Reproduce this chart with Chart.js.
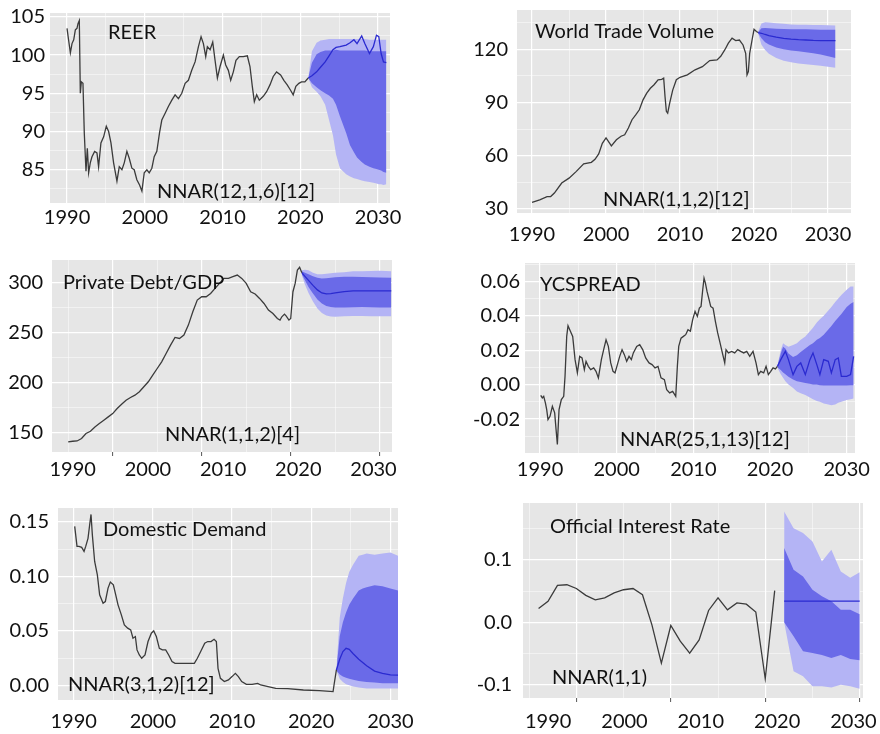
<!DOCTYPE html>
<html>
<head>
<meta charset="utf-8">
<script src="https://cdn.jsdelivr.net/npm/chart.js@4.4.0/dist/chart.umd.min.js"></script>
<style>
  body { margin: 0; background: #fff; }
  #wrap { position: relative; width: 880px; height: 734px; }
  canvas { position: absolute; }
</style>
</head>
<body>
<div id="wrap">
  <canvas id="reerChart" width="440" height="245" style="left:0;top:0"></canvas>
  <canvas id="wtvChart" width="440" height="245" style="left:440px;top:0"></canvas>
  <canvas id="debtChart" width="440" height="240" style="left:0;top:250px"></canvas>
  <canvas id="ycChart" width="440" height="240" style="left:440px;top:250px"></canvas>
  <canvas id="ddChart" width="440" height="239" style="left:0;top:495px"></canvas>
  <canvas id="oirChart" width="440" height="239" style="left:440px;top:495px"></canvas>
</div>
<script>
// ---- shared tick labels
const yearTicks = [1990, 2000, 2010, 2020, 2030];

// ---- REER
const reerYears = [1990.0,1990.21,1990.43,1990.64,1990.86,1991.07,1991.28,1991.41,1991.58,1991.71,1991.84,1992.05,1992.22,1992.44,1992.61,1992.78,1992.99,1993.21,1993.55,1993.85,1994.06,1994.36,1994.71,1995.05,1995.35,1995.65,1995.99,1996.42,1996.72,1997.06,1997.36,1997.7,1998.0,1998.34,1998.64,1998.98,1999.33,1999.63,1999.93,2000.27,2000.57,2000.91,2001.21,2001.55,2001.89,2002.19,2002.62,2003.05,2003.48,2003.9,2004.33,2004.76,2005.19,2005.61,2006.04,2006.47,2006.9,2007.24,2007.54,2007.84,2008.05,2008.4,2008.74,2009.04,2009.34,2009.68,2010.11,2010.41,2010.75,2011.05,2011.39,2011.73,2012.16,2012.67,2013.19,2013.53,2013.83,2014.09,2014.39,2014.73,2015.24,2015.67,2016.1,2016.52,2016.95,2017.47,2017.89,2018.32,2018.75,2019.09,2019.43,2019.82,2020.16,2020.59,2021.02];
const reerValues = [103.5,101.9,100.3,101.5,102.0,103.3,103.5,104.1,104.5,95.0,96.5,96.3,89.8,84.8,87.8,84.6,85.9,86.7,87.4,87.2,85.4,88.5,89.3,90.7,90.0,88.5,85.9,83.5,85.4,85.0,85.9,87.4,86.5,85.2,85.0,83.7,83.0,82.2,84.6,85.0,84.6,85.2,86.7,87.4,89.8,91.5,92.4,93.3,94.1,94.8,94.3,95.0,96.3,96.7,98.0,99.1,101.1,102.4,101.5,99.8,101.1,100.7,101.7,99.3,97.0,98.5,100.0,98.7,98.0,96.7,97.8,99.3,99.8,99.8,99.9,98.5,95.9,93.9,94.8,94.1,94.6,95.2,96.1,97.2,97.8,97.4,96.7,96.1,95.4,94.8,95.9,96.3,96.5,96.5,97.0];
const reerFcYears = [2021.02,2021.5,2022.1,2022.6,2023.2,2023.7,2024.2,2024.6,2025.1,2025.9,2026.4,2026.9,2027.3,2027.9,2028.3,2028.9,2029.4,2029.8,2030.1,2030.4,2030.7,2031.07];
const reerMean = [97.0,97.3,97.8,98.4,99.1,99.9,100.7,101.0,101.1,101.3,101.6,102.0,101.5,102.5,101.5,100.2,101.1,102.6,102.4,100.2,99.1,99.0];
const reerHi80 = [97.0,99.0,100.1,100.4,100.6,100.6,100.6,100.7,100.6,100.6,100.6,100.6,100.6,100.6,100.6,100.5,100.5,100.5,100.5,100.5,100.5,100.5];
const reerLo80 = [97.0,96.3,95.8,95.4,95.0,94.7,94.3,93.5,92.0,89.8,88.2,87.3,86.6,86.0,85.7,85.4,85.2,85.1,85.0,84.9,84.7,84.6];
const reerHi95 = [97.0,100.5,101.6,101.9,102.0,102.1,102.1,102.1,102.1,102.1,102.1,102.1,102.1,102.1,102.1,102.0,102.0,102.0,102.0,102.0,102.0,102.0];
const reerLo95 = [97.0,95.8,95.2,94.6,93.5,91.5,89.5,87.0,85.2,84.4,84.1,83.9,83.8,83.6,83.5,83.4,83.3,83.2,83.1,83.1,83.0,83.1];
const reerTicks = [85, 90, 95, 100, 105];

// ---- World Trade Volume
const wtvYears = [1990.0,1991.04,1992.03,1992.52,1993.02,1994.01,1995.0,1995.99,1996.98,1998.02,1998.51,1999.01,1999.5,2000.0,2000.5,2000.72,2001.4,2002.03,2002.52,2003.02,2003.51,2004.01,2004.5,2005.0,2005.5,2005.99,2006.49,2007.03,2007.52,2007.79,2007.97,2008.15,2008.33,2008.6,2009.01,2009.5,2010.0,2010.99,2012.03,2013.02,2014.01,2015.0,2015.5,2016.04,2016.53,2017.03,2017.52,2018.02,2018.51,2018.87,2019.05,2019.23,2019.41,2019.73,2020.0,2020.32,2020.54];
const wtvValues = [33.7,35.2,37.0,37.0,39.0,44.6,47.4,51.2,55.5,56.3,58.0,61.0,67.0,70.0,67.0,65.6,69.0,71.0,71.8,75.6,80.3,83.0,85.9,91.5,95.3,98.0,100.0,102.8,103.0,103.7,93.4,85.0,84.0,89.6,97.0,102.8,104.2,105.6,108.4,110.2,113.6,114.0,116.0,119.6,123.4,126.2,124.9,125.2,122.4,117.7,105.6,107.4,117.7,125.2,131.2,130.0,129.4];
const wtvFcYears = [2020.54,2021.0,2021.5,2022.0,2023.0,2024.0,2025.0,2026.0,2027.0,2028.0,2029.0,2030.0,2031.0];
const wtvMean = [129.4,129.0,128.3,127.7,126.8,126.1,125.7,125.4,125.2,125.0,124.9,124.9,124.9];
const wtvHi80 = [129.6,131.8,132.0,131.8,131.5,131.4,131.3,131.2,131.2,131.1,131.0,131.0,131.0];
const wtvLo80 = [129.2,126.2,124.0,122.6,121.0,120.0,119.3,118.8,118.3,117.8,117.0,116.0,115.0];
const wtvHi95 = [129.8,134.5,135.2,135.0,134.6,134.3,134.0,133.8,133.8,133.7,133.6,133.5,133.4];
const wtvLo95 = [129.0,122.5,119.5,117.5,115.0,113.5,112.6,112.0,111.5,111.1,110.7,110.2,109.5];
const wtvTicks = [30, 60, 90, 120];

// ---- Private Debt/GDP (quarterly)
const debtYears = [1995.0,1995.5,1996.0,1996.5,1997.0,1997.5,1998.0,1998.5,1999.0,1999.5,2000.0,2000.5,2001.0,2001.5,2002.0,2002.5,2003.0,2003.5,2004.0,2004.5,2005.0,2005.5,2006.0,2006.5,2007.0,2007.5,2008.0,2008.5,2009.0,2009.5,2010.0,2010.5,2011.0,2011.5,2012.0,2012.5,2013.0,2013.5,2014.0,2014.5,2015.0,2015.5,2016.0,2016.5,2017.0,2017.5,2018.0,2018.5,2018.8,2019.0,2019.3,2019.5,2019.8,2020.0,2020.25,2020.5,2020.75,2021.0,2021.25];
const debtValues = [141.0,141.7,142.0,144.4,149.4,151.7,156.0,159.3,162.7,166.0,169.3,174.3,178.6,182.6,185.3,187.6,191.0,196.0,201.0,207.5,214.2,220.8,229.2,237.5,245.1,244.1,247.5,257.4,270.7,282.4,285.7,285.7,289.0,294.0,299.0,304.0,304.0,305.7,307.3,304.0,299.0,290.7,288.4,284.0,279.0,272.4,269.0,264.0,262.4,265.7,268.4,266.4,262.4,264.0,290.7,299.0,312.3,315.0,309.6];
const debtFcYears = [2021.25,2021.6,2022.0,2022.5,2023.0,2023.5,2024.0,2024.5,2025.0,2026.0,2027.0,2028.0,2029.0,2030.0,2031.3];
const debtMean = [309.6,306.0,302.0,297.0,292.5,289.5,288.5,288.8,289.5,290.8,291.5,291.6,291.5,291.5,291.5];
const debtHi80 = [311.0,309.5,308.0,306.0,304.5,303.8,304.0,304.5,305.0,305.5,305.6,305.3,305.0,304.8,304.5];
const debtLo80 = [308.0,302.0,295.5,289.0,283.0,279.0,276.5,275.5,275.0,275.0,275.3,275.5,275.3,275.0,275.0];
const debtHi95 = [312.0,312.5,312.0,309.5,308.2,308.0,308.5,309.0,309.5,310.2,311.0,311.2,311.3,311.5,311.0];
const debtLo95 = [307.0,298.0,289.5,281.0,274.0,269.5,267.0,266.0,265.8,266.2,266.5,266.4,266.2,266.2,266.3];
const debtTicks = [150, 200, 250, 300];

// ---- YCSPREAD
const ycYears = [1990.09,1990.3,1990.48,1990.7,1990.87,1991.04,1991.3,1991.61,1991.91,1992.09,1992.26,1992.48,1992.78,1993.09,1993.26,1993.48,1993.65,1993.96,1994.26,1994.57,1994.87,1995.17,1995.48,1995.78,1996.0,1996.3,1996.61,1997.0,1997.3,1997.61,1998.0,1998.3,1998.61,1998.91,1999.22,1999.52,1999.78,2000.09,2000.39,2000.7,2001.0,2001.3,2001.61,2001.91,2002.17,2002.61,2003.0,2003.39,2003.78,2004.22,2004.61,2005.0,2005.39,2005.78,2006.22,2006.52,2006.91,2007.3,2007.7,2007.91,2008.09,2008.39,2008.7,2009.0,2009.3,2009.61,2009.91,2010.22,2010.52,2010.78,2011.0,2011.22,2011.39,2011.57,2011.78,2012.0,2012.26,2012.57,2012.87,2013.17,2013.48,2013.78,2014.09,2014.26,2014.57,2015.0,2015.39,2015.78,2016.17,2016.57,2016.96,2017.35,2017.78,2018.17,2018.48,2018.78,2019.17,2019.48,2019.78,2020.09,2020.39,2020.7,2020.96];
const ycValues = [-0.0062,-0.0077,-0.0068,-0.0106,-0.0145,-0.0203,-0.0184,-0.0126,-0.0164,-0.026,-0.0348,-0.0145,-0.0087,-0.0068,0.0048,0.028,0.0342,0.031,0.028,0.0145,0.0068,0.0164,0.0155,0.0087,0.0135,0.0106,0.0087,0.0097,0.0077,0.0039,0.0145,0.0203,0.026,0.0222,0.0126,0.0077,0.0068,0.0116,0.0164,0.0203,0.0174,0.0135,0.0164,0.0145,0.0184,0.0222,0.0232,0.0203,0.0155,0.0126,0.0116,0.0097,0.0106,0.0039,0.0029,-0.0029,-0.0048,-0.0039,-0.0068,0.0106,0.0222,0.027,0.028,0.029,0.0319,0.031,0.0377,0.0425,0.0396,0.0444,0.0454,0.0551,0.0618,0.0589,0.0541,0.0502,0.0454,0.0444,0.0367,0.030,0.0242,0.0184,0.0126,0.0203,0.0184,0.0193,0.0184,0.0203,0.0193,0.0184,0.0193,0.0164,0.0193,0.0126,0.0058,0.0077,0.0068,0.0106,0.0058,0.0077,0.0097,0.0091,0.0106];
const ycFcYears = [2020.96,2021.4,2021.7,2022.0,2022.4,2023.0,2023.5,2024.0,2024.6,2025.2,2025.6,2026.1,2026.5,2027.0,2027.6,2028.0,2028.5,2028.9,2029.3,2030.0,2030.5,2030.9];
const ycMean = [0.0106,0.0145,0.017,0.0193,0.0145,0.0058,0.0106,0.0126,0.0058,0.0145,0.0184,0.0116,0.0058,0.0145,0.0135,0.0068,0.0145,0.0155,0.0048,0.0048,0.0058,0.0164];
const ycHi80 = [0.011,0.018,0.022,0.021,0.018,0.016,0.017,0.019,0.021,0.023,0.024,0.026,0.027,0.029,0.032,0.034,0.037,0.039,0.041,0.045,0.047,0.048];
const ycLo80 = [0.010,0.0085,0.007,0.006,0.0045,0.003,0.002,0.0015,0.001,0.0005,0.0,0.0,-0.0003,-0.0005,-0.0005,-0.0005,-0.0005,-0.0005,-0.0005,-0.0005,-0.0004,-0.0003];
const ycHi95 = [0.0112,0.020,0.024,0.023,0.022,0.023,0.024,0.026,0.028,0.031,0.033,0.036,0.038,0.040,0.043,0.045,0.048,0.050,0.052,0.055,0.057,0.057];
const ycLo95 = [0.0098,0.006,0.004,0.002,0.0,-0.002,-0.004,-0.005,-0.006,-0.0075,-0.0085,-0.0095,-0.010,-0.011,-0.0115,-0.012,-0.0115,-0.0105,-0.010,-0.009,-0.0085,-0.008];
const ycTicks = [-0.02, 0.00, 0.02, 0.04, 0.06];

// ---- Domestic Demand
const ddYears = [1990.13,1990.42,1990.67,1991.01,1991.31,1991.52,1991.81,1992.02,1992.19,1992.36,1992.65,1992.99,1993.28,1993.71,1994.0,1994.34,1994.63,1995.01,1995.31,1995.6,1996.02,1996.4,1996.82,1997.2,1997.49,1997.79,1998.0,1998.29,1998.59,1999.01,1999.39,1999.81,2000.11,2000.44,2000.82,2001.2,2001.62,2002.0,2002.42,2002.8,2003.52,2004.53,2005.24,2005.62,2006.04,2006.55,2006.93,2007.35,2007.73,2008.02,2008.23,2008.53,2009.03,2009.54,2010.0,2010.42,2010.8,2011.22,2011.81,2012.53,2013.24,2013.62,2014.55,2015.52,2017.03,2019.01,2021.03,2022.76,2022.88,2023.18];
const ddValues = [0.146,0.1276,0.1276,0.1267,0.123,0.1276,0.135,0.1475,0.157,0.138,0.1138,0.1015,0.0831,0.0755,0.077,0.0893,0.0948,0.0923,0.0831,0.0739,0.0647,0.0555,0.0525,0.0509,0.0433,0.0448,0.0325,0.0279,0.0248,0.0279,0.0402,0.0479,0.050,0.0448,0.034,0.0325,0.0325,0.0279,0.0218,0.0202,0.0202,0.0202,0.0202,0.0248,0.031,0.0387,0.0402,0.0402,0.0423,0.0402,0.0156,0.0064,0.0034,0.0049,0.008,0.011,0.008,0.0034,0.0009,0.0009,0.0018,0.0003,-0.0012,-0.0028,-0.0031,-0.0043,-0.0049,-0.0058,0.0003,0.0141];
const ddFcYears = [2023.18,2023.6,2024.0,2024.4,2024.8,2025.3,2026.0,2026.5,2027.0,2028.0,2029.0,2030.0,2031.0];
const ddMean = [0.0141,0.024,0.031,0.034,0.033,0.029,0.024,0.021,0.018,0.013,0.011,0.0095,0.0093];
const ddHi80 = [0.0145,0.045,0.058,0.067,0.074,0.080,0.087,0.089,0.090,0.092,0.091,0.089,0.087];
const ddLo80 = [0.0137,0.010,0.008,0.007,0.006,0.005,0.004,0.0035,0.003,0.0025,0.002,0.002,0.002];
const ddHi95 = [0.015,0.062,0.080,0.094,0.104,0.111,0.119,0.120,0.121,0.120,0.121,0.122,0.119];
const ddLo95 = [0.0135,0.006,0.003,0.001,0.0,-0.001,-0.002,-0.0025,-0.003,-0.003,-0.003,-0.003,-0.003];
const ddTicks = [0.00, 0.05, 0.10, 0.15];

// ---- Official Interest Rate (annual)
const oirYears = [1996,1997,1998,1999,2000,2001,2002,2003,2004,2005,2006,2007,2008,2009,2010,2011,2012,2013,2014,2015,2016,2017,2018,2019,2020,2021];
const oirValues = [0.022,0.0335,0.059,0.060,0.054,0.043,0.036,0.039,0.047,0.052,0.054,0.044,-0.004,-0.065,-0.005,-0.030,-0.049,-0.028,0.019,0.039,0.020,0.031,0.029,0.0165,-0.090,0.0505];
const oirFcYears = [2022,2023,2024,2025,2026,2027,2028,2029,2030];
const oirMean = [0.034,0.034,0.034,0.034,0.034,0.034,0.034,0.034,0.034];
const oirHi80 = [0.1186,0.084,0.073,0.052,0.0415,0.0335,0.020,0.020,0.013];
const oirLo80 = [0.0,-0.022,-0.046,-0.049,-0.052,-0.057,-0.052,-0.0585,-0.0605];
const oirHi95 = [0.177,0.150,0.1425,0.129,0.097,0.116,0.081,0.071,0.080];
const oirLo95 = [0.0,-0.078,-0.086,-0.102,-0.102,-0.104,-0.0995,-0.102,-0.106];
const oirTicks = [-0.1, 0.0, 0.1];

// ---- colours
const histColor = '#3b3b3b';
const meanColor = '#2a2ad0';
const band80 = '#6a6ae8';
const band95 = '#b4b4f5';
const panelGrey = '#e6e6e6';
const fontSize = 20;

const panelDecor = {
	id: 'panelDecor',
	beforeDraw(chart) {
		const a = chart.chartArea;
		const ctx = chart.ctx;
		ctx.save();
		ctx.fillStyle = panelGrey;
		ctx.fillRect(a.left, a.top, a.right - a.left, a.bottom - a.top);
		ctx.restore();
	},
	afterDatasetsDraw(chart, args, opts) {
		const ctx = chart.ctx;
		ctx.save();
		ctx.font = fontSize + 'px Lato';
		ctx.fillStyle = '#111';
		ctx.textBaseline = 'middle';
		ctx.textAlign = 'left';
		opts.notes.forEach(n => ctx.fillText(n.text, n.x, n.y));
		ctx.restore();
	}
};

// ticks every half step, labels only on the majors
function withMinor(majors, min, max) {
	const step = majors[1] - majors[0];
	const out = [];
	majors.forEach(v => out.push({ value: v, isMajor: true }));
	out.push({ value: majors[0] - step / 2, isMajor: false });
	majors.forEach(v => out.push({ value: v + step / 2, isMajor: false }));
	return out.filter(t => t.value >= min - 1e-9 && t.value <= max + 1e-9)
		.sort((a, b) => a.value - b.value);
}

function pts(xs, ys) {
	return xs.map((x, i) => ({ x: x, y: ys[i] }));
}

function makePanel(id, p) {
	const canvas = document.getElementById(id);
	const W = canvas.width, H = canvas.height;
	const gridMajors = p.gridMajors || yearTicks;

	new Chart(canvas.getContext('2d'), {
		type: 'line',
		data: {
			datasets: [
				{ data: pts(p.years, p.values), borderColor: histColor, borderWidth: 1.3, pointRadius: 0, fill: false },
				{ data: pts(p.fcYears, p.mean), borderColor: meanColor, borderWidth: 1.3, pointRadius: 0, fill: false },
				{ data: pts(p.fcYears, p.hi80), borderWidth: 0, pointRadius: 0, backgroundColor: band80, fill: '+1' },
				{ data: pts(p.fcYears, p.lo80), borderWidth: 0, pointRadius: 0, fill: false },
				{ data: pts(p.fcYears, p.hi95), borderWidth: 0, pointRadius: 0, backgroundColor: band95, fill: '+1' },
				{ data: pts(p.fcYears, p.lo95), borderWidth: 0, pointRadius: 0, fill: false }
			]
		},
		options: {
			responsive: false,
			animation: false,
			layout: { padding: { top: p.area.t, right: W - p.area.r, left: 0, bottom: 0 } },
			plugins: {
				legend: { display: false },
				tooltip: { enabled: false },
				panelDecor: { notes: p.notes }
			},
			scales: {
				x: {
					type: 'linear', position: 'bottom', weight: 0,
					min: p.gridRange[0], max: p.gridRange[1],
					afterBuildTicks: s => { s.ticks = withMinor(gridMajors, s.min, s.max); },
					afterFit: s => { s.height = 0; s.paddingLeft = 0; s.paddingRight = 0; },
					ticks: { display: false, autoSkip: false },
					border: { display: false },
					grid: {
						color: '#ffffff',
						lineWidth: c => (c.tick && c.tick.isMajor ? 1.2 : 0.5),
						drawTicks: !!p.tickMarks,
						tickLength: 4,
						tickWidth: 1,
						tickColor: c => (c.tick && c.tick.isMajor ? '#555' : 'rgba(0,0,0,0)')
					}
				},
				xl: {
					type: 'linear', position: 'bottom', weight: 1,
					min: p.labelRange[0], max: p.labelRange[1],
					afterBuildTicks: s => { s.ticks = yearTicks.map(v => ({ value: v })); },
					afterFit: s => { s.height = H - p.area.b; s.paddingLeft = 0; s.paddingRight = 0; },
					ticks: {
						autoSkip: false, maxRotation: 0, padding: p.xPad - 1,
						color: '#111', font: { family: 'Lato', size: fontSize },
						callback: v => String(v)
					},
					border: { display: false },
					grid: { display: false, drawTicks: false }
				},
				y: {
					type: 'linear', position: 'left',
					min: p.yRange[0], max: p.yRange[1],
					afterBuildTicks: s => { s.ticks = withMinor(p.yTicks, s.min, s.max); },
					afterFit: s => { s.width = p.area.l; s.paddingTop = 0; s.paddingBottom = 0; },
					ticks: {
						autoSkip: false, padding: p.yPad,
						color: '#111', font: { family: 'Lato', size: fontSize },
						callback: (v, i, ticks) => (ticks[i].isMajor ? Number(v).toFixed(p.decimals) : '')
					},
					border: { display: false },
					grid: {
						color: '#ffffff',
						lineWidth: c => (c.tick && c.tick.isMajor ? 1.2 : 0.5),
						drawTicks: false
					}
				}
			}
		},
		plugins: [panelDecor]
	});
}

makePanel('reerChart', {
	years: reerYears, values: reerValues, fcYears: reerFcYears,
	mean: reerMean, hi80: reerHi80, lo80: reerLo80, hi95: reerHi95, lo95: reerLo95,
	yTicks: reerTicks, decimals: 0,
	area: { l: 50, t: 13, r: 390, b: 203 },
	gridRange: [1987.81, 2031.54], labelRange: [1987.81, 2031.54], yRange: [80.65, 105.5],
	xPad: 4, yPad: 5,
	notes: [{ text: 'REER', x: 108, y: 33 }, { text: 'NNAR(12,1,6)[12]', x: 157, y: 192 }]
});

makePanel('wtvChart', {
	years: wtvYears, values: wtvValues, fcYears: wtvFcYears,
	mean: wtvMean, hi80: wtvHi80, lo80: wtvLo80, hi95: wtvHi95, lo95: wtvLo95,
	yTicks: wtvTicks, decimals: 0,
	area: { l: 77, t: 10, r: 411, b: 213 },
	gridRange: [1987.97, 2033.1], labelRange: [1987.97, 2033.1], yRange: [27.75, 142.1],
	xPad: 11, yPad: 9,
	notes: [{ text: 'World Trade Volume', x: 95, y: 32 }, { text: 'NNAR(1,1,2)[12]', x: 163, y: 200 }]
});

makePanel('debtChart', {
	years: debtYears, values: debtValues, fcYears: debtFcYears,
	mean: debtMean, hi80: debtHi80, lo80: debtLo80, hi95: debtHi95, lo95: debtLo95,
	yTicks: debtTicks, decimals: 0,
	area: { l: 52, t: 10, r: 392, b: 202 },
	gridMajors: yearTicks, tickMarks: true,
	gridRange: [1993.18, 2031.38], labelRange: [1987.25, 2032.46], yRange: [131.0, 322.3],
	xPad: 7, yPad: 9,
	notes: [{ text: 'Private Debt/GDP', x: 63, y: 33 }, { text: 'NNAR(1,1,2)[4]', x: 165, y: 185 }]
});

makePanel('ycChart', {
	years: ycYears, values: ycValues, fcYears: ycFcYears,
	mean: ycMean, hi80: ycHi80, lo80: ycLo80, hi95: ycHi95, lo95: ycLo95,
	yTicks: ycTicks, decimals: 2,
	area: { l: 85, t: 13, r: 415, b: 203 },
	gridRange: [1988.04, 2031.08], labelRange: [1988.04, 2031.08], yRange: [-0.0397, 0.0706],
	xPad: 6, yPad: 5,
	notes: [{ text: 'YCSPREAD', x: 100, y: 35 }, { text: 'NNAR(25,1,13)[12]', x: 180, y: 190 }]
});

makePanel('ddChart', {
	years: ddYears, values: ddValues, fcYears: ddFcYears,
	mean: ddMean, hi80: ddHi80, lo80: ddLo80, hi95: ddHi95, lo95: ddLo95,
	yTicks: ddTicks, decimals: 2,
	area: { l: 58, t: 13, r: 398, b: 205 },
	gridRange: [1988.02, 2030.96], labelRange: [1988.02, 2030.96], yRange: [-0.0135, 0.1629],
	xPad: 11, yPad: 9,
	notes: [{ text: 'Domestic Demand', x: 103, y: 35 }, { text: 'NNAR(3,1,2)[12]', x: 68, y: 190 }]
});

makePanel('oirChart', {
	years: oirYears, values: oirValues, fcYears: oirFcYears,
	mean: oirMean, hi80: oirHi80, lo80: oirLo80, hi95: oirHi95, lo95: oirLo95,
	yTicks: oirTicks, decimals: 1,
	area: { l: 83, t: 8, r: 423, b: 203 },
	gridMajors: yearTicks, tickMarks: true,
	gridRange: [1994.35, 2030.35], labelRange: [1986.7, 2031.26], yRange: [-0.1207, 0.1904],
	xPad: 13, yPad: 11,
	notes: [{ text: 'Official Interest Rate', x: 110, y: 32 }, { text: 'NNAR(1,1)', x: 112, y: 183 }]
});
</script>
</body>
</html>
